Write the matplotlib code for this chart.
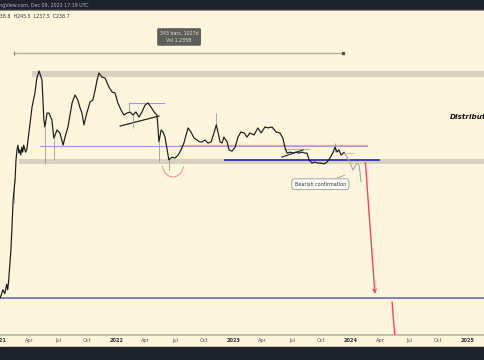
import numpy as np
import matplotlib
matplotlib.use("Agg")
import matplotlib.pyplot as plt
from matplotlib.patches import Rectangle

# ---- data (3D closes, days since 2021-01-01, price) ----
days = [0, 3, 9, 15, 21, 24, 27, 34, 37, 41, 47, 50, 53, 56, 59, 62, 65, 68, 71, 74, 77, 80, 84,
        90, 100, 109, 115, 122, 131, 137, 140, 147, 153, 162, 168, 178, 187, 197, 203, 212,
        225, 234, 243, 250, 256, 262, 271, 281, 290, 297, 303, 309, 318, 328, 340, 350, 359,
        368, 378, 387, 396, 406, 415, 424, 434, 443, 453, 462, 471, 481, 490, 493, 496, 503,
        509, 515, 521, 527, 537, 546, 556, 565, 574, 581, 587, 596, 606, 615, 624, 630, 640,
        649, 659, 668, 675, 681, 687, 693, 699, 709, 715, 724, 734, 743, 752, 762, 771, 780,
        793, 805, 815, 827, 837, 849, 862, 874, 883, 890, 896, 905, 915, 924, 933, 943, 952,
        958, 965, 974, 983, 993, 1002, 1012, 1021, 1030, 1040, 1046, 1052, 1058, 1065, 1071, 1074]
close = [36, 37, 40, 38, 43, 40, 45, 67, 87, 129, 167, 217, 247, 263, 237, 247, 231, 256, 240, 263, 250, 240, 250,
         308, 432, 518, 629, 690, 614, 365, 333, 399, 399, 365, 288, 320, 308, 263, 292, 333,
         455, 505, 473, 426, 399, 342, 399, 461, 473, 539, 614, 672, 638, 629, 560, 525, 518,
         455, 415, 389, 399, 405, 389, 405, 379, 405, 443, 455, 432, 405, 389, 333, 274, 320,
         312, 292, 253, 217, 225, 222, 231, 247, 270, 300, 329, 312, 288, 281, 274, 274, 281,
         270, 274, 308, 342, 308, 274, 270, 292, 274, 247, 243, 256, 292, 312, 308, 292, 308,
         300, 329, 308, 333, 329, 333, 312, 308, 288, 253, 237, 240, 237, 240, 237, 240, 237,
         237, 217, 208, 211, 208, 208, 206, 211, 222, 240, 256, 240, 247, 231, 237, 239]

wick_days = [43, 140, 168, 415, 496, 527, 675, 1046]
wick_low = [123, 206, 217, 330, 211, 189, 342, 240]
wick_high = [170, 333, 288, 389, 274, 217, 399, 270]

proj_days = [1074, 1089, 1102, 1114, 1121, 1127]
proj_price = [239, 217, 190, 208, 203, 163]

tick_labels = ["2021", "Apr", "Jul", "Oct", "2022", "Apr", "Jul", "Oct", "2023",
               "Apr", "Jul", "Oct", "2024", "Apr", "Jul", "Oct", "2025"]

BASE = np.datetime64("2021-01-01")
def D(d):
    return BASE + np.array(d, dtype="timedelta64[D]")

BG = "#fdf6dc"
BAND = "#d7d1bd"
fig = plt.figure(figsize=(4.85, 3.6), dpi=100)
fig.patch.set_facecolor(BG)
ax = fig.add_axes([0, 25 / 360, 1, 324 / 360])
ax.set_facecolor(BG)
ax.set_yscale("log")
ax.set_ylim(22.2, 1507)
ax.set_xlim(D(6), D(1514))
for s in ["top", "left", "right"]:
    ax.spines[s].set_visible(False)
ax.spines["bottom"].set_color("#b9b4a2")
ax.spines["bottom"].set_linewidth(1.2)
ax.yaxis.set_visible(False)
ax.minorticks_off()

# ticks
tick_pos = []
for y in range(2021, 2026):
    for m in (1, 4, 7, 10):
        tick_pos.append(np.datetime64(f"{y}-{m:02d}-01"))
tick_pos = tick_pos[:len(tick_labels)]
ax.set_xticks(tick_pos)
ax.set_xticklabels(tick_labels)
ax.tick_params(axis="x", length=0, pad=2.5, labelsize=3.6, labelcolor="#555555")
for lbl in ax.get_xticklabels():
    if lbl.get_text().isdigit():
        lbl.set_fontweight("bold")
        lbl.set_color("#333333")

far = D(2000)
# bands
ax.fill_between([D(100), far], 638, 690, color=BAND, lw=0, zorder=1)
ax.fill_between([D(59), far], 206, 219, color=BAND, lw=0, zorder=1)

# horizontal levels
ax.plot([D(125), D(1146)], [259, 259], color="#a497dc", lw=0.8, zorder=2)
ax.plot([D(560), D(1146)], [264, 264], color="#f0a0b8", lw=0.8, zorder=2)
ax.plot([D(703), D(1183)], [217, 217], color="#3b3bc4", lw=1.4, zorder=3)
ax.plot([D(0), far], [36, 36], color="#7b70d8", lw=1.3, zorder=3)
ax.plot([D(1077), D(1105)], [237, 237], color="#c8c4b8", lw=0.7, zorder=2)

# small patterns
ax.plot([D(375), D(496)], [337, 384], color="#222222", lw=0.9, zorder=4)
ax.plot([D(403), D(512)], [455, 455], color="#a497dc", lw=0.8, zorder=2)
ax.plot([D(403), D(403)], [455, 418], color="#a497dc", lw=0.8, zorder=2)
ax.plot([D(880), D(946)], [225, 247], color="#222222", lw=0.8, zorder=4)
ax.plot([D(885), D(965)], [250, 250], color="#c9a6c8", lw=0.8, zorder=2)

# price series
ax.vlines(D(wick_days), wick_low, wick_high, color="#9a9a9a", lw=0.6, zorder=4)
ax.plot(D(days), close, color="#1a1a1a", lw=0.85, zorder=5)
ax.plot(D(proj_days), proj_price, color="#a8a8a0", lw=0.8, zorder=4)

# red ellipse (lower arc) around 2022 low
th = np.radians(np.linspace(195, 345, 40))
ex = 540 + 34 * np.cos(th)
ey = np.exp(np.log(208) + 0.18 * np.sin(th))
ax.plot(D(np.round(ex).astype(int)), ey, color="#e88a88", lw=0.7, zorder=5)

# red projection arrows
ax.annotate("", xy=(D(1171), 36.5), xytext=(D(1140), 217),
            arrowprops=dict(arrowstyle="->", color="#e84a6a", lw=1.0, mutation_scale=6), zorder=6)
ax.plot([D(1224), D(1236)], [34, 18], color="#e84a6a", lw=1.0, zorder=6)

# measurement tool
ax.plot([D(44), D(1071)], [872, 872], color="#b8b29e", lw=1.0, zorder=3)
ax.plot([D(44)], [872], marker="|", color="#888880", ms=3, mew=0.8, zorder=3)
ax.plot([D(1071)], [872], marker="s", color="#555550", ms=1.5, zorder=3)
ax.text(D(559), 1075, "343 bars, 1027d\nVol 1.235B", ha="center", va="center",
        fontsize=3.4, color="#dddddd", linespacing=1.6,
        bbox=dict(boxstyle="round,pad=0.55,rounding_size=0.3", fc="#5e5d58", ec="none"), zorder=7)

# callout
ax.annotate("Bearish confirmation", xy=(D(1077), 178), xytext=(D(1000), 158),
            ha="center", va="center", fontsize=3.5, color="#333333",
            bbox=dict(boxstyle="round,pad=0.6,rounding_size=0.5", fc="#fdfdf8", ec="#9a9a9a", lw=0.6),
            arrowprops=dict(arrowstyle="-", color="#9a9a9a", lw=0.6, shrinkA=0, shrinkB=0), zorder=7)

# Distribution label (cut by right edge)
ax.text(D(1405), 379, "Distribution", fontsize=5.2, fontweight="bold", fontstyle="italic",
        color="#111111", ha="left", va="center", clip_on=True, zorder=7)

# top & bottom dark bars
fig.add_artist(Rectangle((0, 1 - 10 / 360), 1, 10 / 360, transform=fig.transFigure,
                         color="#1e222d", zorder=0))
fig.add_artist(Rectangle((0, 1 - 11 / 360), 1, 1 / 360, transform=fig.transFigure,
                         color="#8c8a80", zorder=0))
fig.add_artist(Rectangle((0, 0), 1, 13 / 360, transform=fig.transFigure,
                         color="#1e222d", zorder=0))
fig.text(-0.024, 1 - 5 / 360, "TradingView.com, Dec 09, 2023 17:19 UTC", fontsize=3.4,
         color="#b2b5be", ha="left", va="center")
fig.text(-0.014, 1 - 16 / 360, "O238.8  H245.5  L237.5  C238.7", fontsize=3.4,
         color="#333333", ha="left", va="center")

fig.savefig("out.png", dpi=100, facecolor=BG)
